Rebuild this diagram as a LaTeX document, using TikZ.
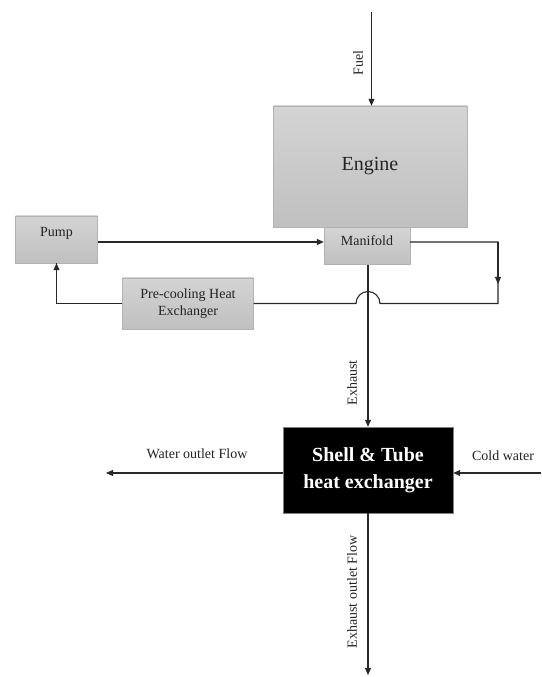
\documentclass[tikz,border=0pt]{standalone}
\usepackage{fontspec}
\setmainfont{Liberation Serif}
\usepackage{tikz}
\usetikzlibrary{arrows.meta,positioning}

\definecolor{linegray}{RGB}{40,40,40}
\definecolor{textgray}{RGB}{35,35,35}
\definecolor{boxtop}{RGB}{212,212,212}
\definecolor{boxbot}{RGB}{192,192,192}
\definecolor{boxrim}{RGB}{178,178,178}

\tikzset{
    graybox/.style = {draw=boxrim,top color=boxtop,bottom color=boxbot,
        text=textgray,align=center,inner sep=0pt,
        font=\fontsize{14}{17}\selectfont},
    hxbox/.style = {draw=gray,fill=black,text=white,align=center,inner sep=0pt,
        font=\fontsize{20}{27}\selectfont\bfseries},
    pipe/.style = {draw=linegray,line width=1.1pt},
    flow/.style = {pipe,-{Triangle[length=7pt,width=6pt]}},
    lbl/.style = {text=textgray,inner sep=1pt,font=\fontsize{14}{17}\selectfont}
}

\begin{document}
\begin{tikzpicture}[x=1pt,y=1pt]
            \useasboundingbox (0,0) rectangle (541,677);

            \node [graybox,minimum width=194pt,minimum height=121pt,
                   font=\fontsize{20}{24}\selectfont] (engine) at (370,510.5) {Engine};
            \node [graybox,minimum width=86pt,minimum height=37pt,
                   text height=10pt,text depth=11pt] (manif) at (367,431) {Manifold};
            \node [graybox,minimum width=82pt,minimum height=47pt,
                   text height=10pt,text depth=15pt] (pump) at (56.5,437.5) {Pump};
            \node [graybox,minimum width=131pt,minimum height=51pt] (precool) at (188,373.5)
                {Pre-cooling Heat\\Exchanger};
            \node [hxbox,minimum width=170pt,minimum height=86pt] (hx) at (368,207)
                {Shell \& Tube\\heat exchanger};

            \coordinate (fuelin) at (371.5,665);
            \coordinate (cornerR) at (498,435);
            \coordinate (cornerB) at (498,373.5);
            \coordinate (hopR) at (380,373.5);
            \coordinate (waterout) at (106,204);
            \coordinate (coldin) at (541,204);
            \coordinate (exhout) at (368,2);

            \draw [flow] (fuelin) -- (fuelin |- engine.north);
            \node [lbl,rotate=90] at (358,614) {Fuel};

            \draw [flow] (pump.east |- 0,435) -- (manif.west |- 0,435);

            \draw [pipe] (manif.east |- cornerR) -- (cornerR) -- (cornerB) -- (hopR)
                arc [start angle=0,end angle=180,radius=12] -- (precool.east);
            \draw [flow] (cornerR) -- ++(0,-42);
            \draw [pipe] (precool.west) -| (pump.south);
            \draw [flow] (precool.west -| pump.south) -- (pump.south);

            \draw [flow] (manif.south -| hx.north) -- (hx.north);
            \node [lbl,rotate=90] at (352,294) {Exhaust};

            \draw [flow] (hx.west |- waterout) -- (waterout);
            \node [lbl] at (197,223) {Water outlet Flow};
            \draw [flow] (coldin) -- (coldin -| hx.east);
            \node [lbl] at (503,221) {Cold water};

            \draw [flow] (hx.south) -- (exhout);
            \node [lbl,rotate=90] at (352,85) {Exhaust outlet Flow};
        \end{tikzpicture}
\end{document}
